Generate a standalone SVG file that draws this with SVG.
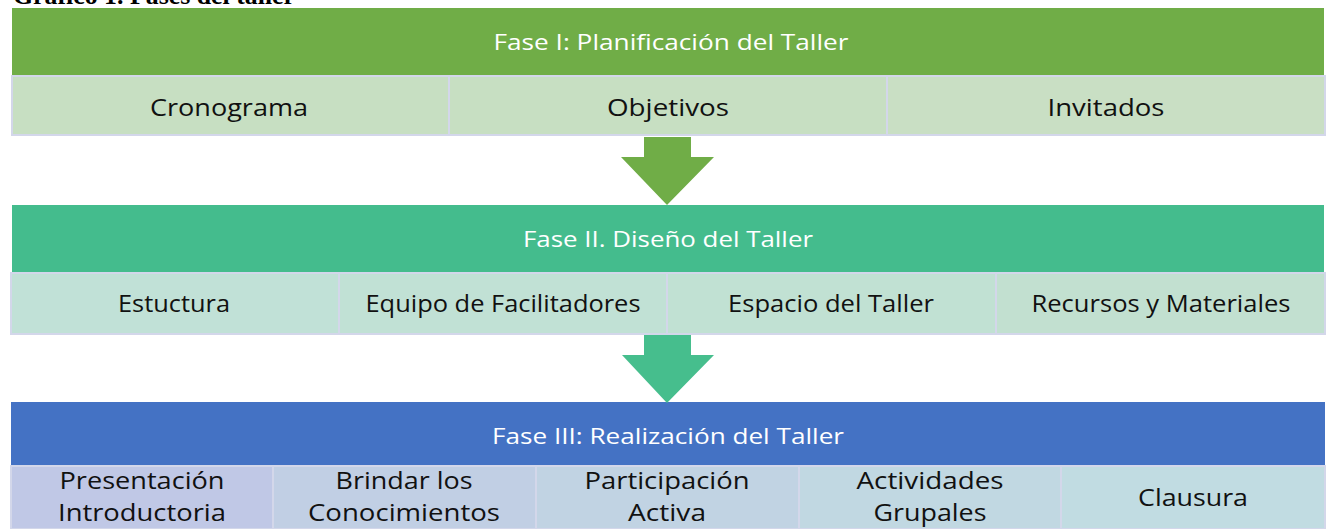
<svg xmlns="http://www.w3.org/2000/svg" width="1327" height="529" viewBox="0 0 1327 529">
<style>
text{font-family:"Open Sans",Lato,"Liberation Sans",sans-serif;text-anchor:middle}
.hdr{font-size:22px;fill:#ffffff}
.cell{stroke:#D3D7EA;stroke-width:2}
.lbl{font-size:24px;fill:#111111}
.lbl2{font-size:23px;fill:#111111}
.lbl3{font-size:24px;fill:#111111}
</style>
<rect width="1327" height="529" fill="#ffffff"/>
<text x="13" y="4" style="font-family:'Liberation Serif',serif;text-anchor:start" font-weight="bold" font-size="25" fill="#000" textLength="282" lengthAdjust="spacingAndGlyphs">Gráfico 1. Fases del taller</text>

<g id="fase1">
<rect x="12" y="8" width="1312" height="68" fill="#70AD47"/>
<text class="hdr" x="671" y="50" textLength="355" lengthAdjust="spacingAndGlyphs">Fase I: Planificación del Taller</text>
</g>
<g id="cronograma"><rect class="cell" x="12" y="76" width="437" height="59" fill="#C7DFC2"/><text class="lbl" x="229" y="116" textLength="158" lengthAdjust="spacingAndGlyphs">Cronograma</text></g>
<g id="objetivos"><rect class="cell" x="449" y="76" width="438" height="59" fill="#C7DFC2"/><text class="lbl" x="668" y="116" textLength="122" lengthAdjust="spacingAndGlyphs">Objetivos</text></g>
<g id="invitados"><rect class="cell" x="887" y="76" width="438" height="59" fill="#C9DFC4"/><text class="lbl" x="1106" y="116" textLength="117" lengthAdjust="spacingAndGlyphs">Invitados</text></g>

<g id="fase2">
<rect x="12" y="205" width="1312" height="68" fill="#44BC8D"/>
<text class="hdr" x="668" y="247" textLength="290" lengthAdjust="spacingAndGlyphs">Fase II. Diseño del Taller</text>
</g>
<g id="estructura"><rect class="cell" x="11" y="273" width="328" height="61" fill="#C1E1D7"/><text class="lbl2" x="174" y="312" textLength="112" lengthAdjust="spacingAndGlyphs">Estuctura</text></g>
<g id="equipo"><rect class="cell" x="339" y="273" width="328" height="61" fill="#C1E1D5"/><text class="lbl2" x="503" y="312" textLength="275" lengthAdjust="spacingAndGlyphs">Equipo de Facilitadores</text></g>
<g id="espacio"><rect class="cell" x="667" y="273" width="329" height="61" fill="#C1E1D3"/><text class="lbl2" x="831" y="312" textLength="206" lengthAdjust="spacingAndGlyphs">Espacio del Taller</text></g>
<g id="recursos"><rect class="cell" x="996" y="273" width="329" height="61" fill="#C2E0D0"/><text class="lbl2" x="1161" y="312" textLength="259" lengthAdjust="spacingAndGlyphs">Recursos y Materiales</text></g>

<g id="fase3">
<rect x="11" y="402" width="1314" height="64" fill="#4472C4"/>
<text class="hdr" x="668" y="444" textLength="352" lengthAdjust="spacingAndGlyphs">Fase III: Realización del Taller</text>
</g>
<g id="presentacion"><rect class="cell" x="11" y="466" width="262" height="63" fill="#C0C8E6"/><text class="lbl3" x="142" y="489" textLength="165" lengthAdjust="spacingAndGlyphs">Presentación</text><text class="lbl3" x="142" y="521" textLength="168" lengthAdjust="spacingAndGlyphs">Introductoria</text></g>
<g id="brindar"><rect class="cell" x="273" y="466" width="263" height="63" fill="#C1CFE4"/><text class="lbl3" x="404" y="489" textLength="137" lengthAdjust="spacingAndGlyphs">Brindar los</text><text class="lbl3" x="404" y="521" textLength="192" lengthAdjust="spacingAndGlyphs">Conocimientos</text></g>
<g id="participacion"><rect class="cell" x="536" y="466" width="263" height="63" fill="#C1D3E3"/><text class="lbl3" x="667" y="489" textLength="165" lengthAdjust="spacingAndGlyphs">Participación</text><text class="lbl3" x="667" y="521" textLength="78" lengthAdjust="spacingAndGlyphs">Activa</text></g>
<g id="actividades"><rect class="cell" x="799" y="466" width="262" height="63" fill="#C1D8E2"/><text class="lbl3" x="930" y="489" textLength="147" lengthAdjust="spacingAndGlyphs">Actividades</text><text class="lbl3" x="930" y="521" textLength="113" lengthAdjust="spacingAndGlyphs">Grupales</text></g>
<g id="clausura"><rect class="cell" x="1061" y="466" width="264" height="63" fill="#C1DCE2"/><text class="lbl3" x="1193" y="506" textLength="110" lengthAdjust="spacingAndGlyphs">Clausura</text></g>

<g id="connectors">
<polygon points="644,137 691,137 691,157 714,157 667,205 621,157 644,157" fill="#70AD47"/>
<polygon points="644,335 691,335 691,355 714,355 667,403 622,355 644,355" fill="#46BE8D"/>
</g>
</svg>
